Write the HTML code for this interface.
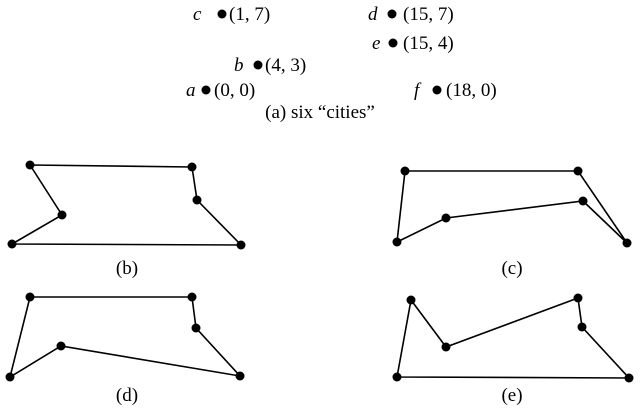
<!DOCTYPE html>
<html><head><style>
html,body{margin:0;padding:0;background:#fff;}
svg{display:block}
text{font-family:"Liberation Serif",serif;font-size:19px;fill:#000}
.i{font-style:italic}
</style></head><body>
<svg width="640" height="408" viewBox="0 0 640 408">
<g>
<text x="193" y="20" class="i">c</text><circle cx="222" cy="14" r="4.5"/><text x="229" y="20">(1, 7)</text>
<text x="368" y="20" class="i">d</text><circle cx="392" cy="14" r="4.5"/><text x="403" y="20">(15, 7)</text>
<text x="372" y="49" class="i">e</text><circle cx="393" cy="43" r="4.5"/><text x="403" y="49">(15, 4)</text>
<text x="234" y="71" class="i">b</text><circle cx="258" cy="65" r="4.5"/><text x="265" y="71">(4, 3)</text>
<text x="186" y="96" class="i">a</text><circle cx="206" cy="90" r="4.5"/><text x="214" y="96">(0, 0)</text>
<text x="414" y="96" class="i">f</text><circle cx="437" cy="90" r="4.5"/><text x="446" y="96">(18, 0)</text>
<text x="320" y="118" text-anchor="middle">(a) six “cities”</text>
</g>
<g stroke="#000" stroke-width="1.6" fill="none">
<polygon points="30,165 192,167 197,200 241,245 12,244 62,215"/>
<polygon points="397,242 405,171 578,171 627,243 583,201 446,218"/>
<polygon points="30,297 192,297 196,328 240,376 61,346 10,377"/>
<polygon points="397,377 411,300 446,347 578,298 582,327 629,378"/>
</g>
<g>
<circle cx="30" cy="165" r="4.5"/><circle cx="192" cy="167" r="4.5"/><circle cx="197" cy="200" r="4.5"/><circle cx="241" cy="245" r="4.5"/><circle cx="12" cy="244" r="4.5"/><circle cx="62" cy="215" r="4.5"/>
<circle cx="397" cy="242" r="4.5"/><circle cx="405" cy="171" r="4.5"/><circle cx="578" cy="171" r="4.5"/><circle cx="627" cy="243" r="4.5"/><circle cx="583" cy="201" r="4.5"/><circle cx="446" cy="218" r="4.5"/>
<circle cx="30" cy="297" r="4.5"/><circle cx="192" cy="297" r="4.5"/><circle cx="196" cy="328" r="4.5"/><circle cx="240" cy="376" r="4.5"/><circle cx="61" cy="346" r="4.5"/><circle cx="10" cy="377" r="4.5"/>
<circle cx="397" cy="377" r="4.5"/><circle cx="411" cy="300" r="4.5"/><circle cx="446" cy="347" r="4.5"/><circle cx="578" cy="298" r="4.5"/><circle cx="582" cy="327" r="4.5"/><circle cx="629" cy="378" r="4.5"/>
</g>
<text x="127" y="274" text-anchor="middle">(b)</text>
<text x="512" y="274" text-anchor="middle">(c)</text>
<text x="127" y="401" text-anchor="middle">(d)</text>
<text x="512" y="401" text-anchor="middle">(e)</text>
</svg>
</body></html>
